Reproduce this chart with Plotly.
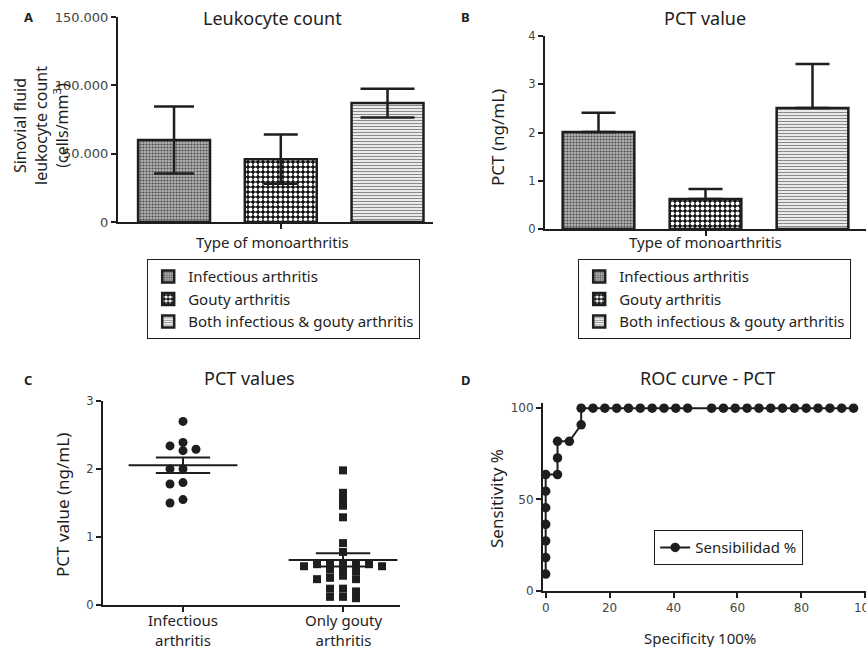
import numpy as np
import plotly.graph_objects as go

W, H = 866, 647
FONT = "Noto Sans"
NUMFONT = "DejaVu Sans"
INK = "#1e1e1e"

# ---------------- data ----------------
categories = ["Infectious arthritis", "Gouty arthritis", "Both infectious & gouty arthritis"]
leukocyte_mean = [60000, 46000, 87000]
leukocyte_sem = [24500, 18000, 10500]
leuk_tickvals = [0, 50000, 100000, 150000]
leuk_ticktext = ["0", "50.000", "100.000", "150.000"]

pct_mean = [2.01, 0.62, 2.51]
pct_sem = [0.40, 0.21, 0.91]

pct_infectious = [2.70, 2.39, 2.34, 2.29, 2.27, 2.00, 2.00, 1.80, 1.78, 1.55, 1.50]
pct_gouty = [1.98, 1.65, 1.55, 1.46, 1.29, 0.91, 0.78, 0.60, 0.60, 0.60, 0.60, 0.60,
             0.57, 0.57, 0.52, 0.52, 0.50, 0.43, 0.40, 0.38, 0.38, 0.24, 0.24, 0.20,
             0.12, 0.12, 0.10]
group_labels = ["Infectious<br>arthritis", "Only gouty<br>arthritis"]

roc_specificity = [0, 0, 0, 0, 0, 0, 0, 3.7, 3.7, 3.7, 7.4, 11.1, 11.1,
                   14.8, 18.5, 22.2, 25.9, 29.6, 33.3, 37.0, 40.7, 44.4,
                   51.9, 55.6, 59.3, 63.0, 66.7, 70.4, 74.1, 77.8, 81.5, 85.2, 88.9, 92.6, 96.3]
roc_sensitivity = [9.09, 18.18, 27.27, 36.36, 45.45, 54.55, 63.64, 63.64, 72.73, 81.82, 81.82,
                   90.91, 100, 100, 100, 100, 100, 100, 100, 100, 100, 100,
                   100, 100, 100, 100, 100, 100, 100, 100, 100, 100, 100, 100, 100]

# ---------------- layout helpers (pixels -> paper) ----------------
def xdom(x0, x1):
    return [x0 / W, min(x1 / W, 1.0)]

def ydom(top, bottom):
    return [1 - bottom / H, 1 - top / H]

def ann(text, px, py, size=16, bold=False, angle=0, xanchor="center", yanchor="middle", **kw):
    return dict(text=f"<b>{text}</b>" if bold else text, x=px / W, y=1 - py / H,
                xref="paper", yref="paper", showarrow=False, textangle=angle,
                xanchor=xanchor, yanchor=yanchor,
                font=dict(family=FONT, size=size, color=INK), **kw)

def axis_style(size=12, family=NUMFONT, color="#444"):
    return dict(showline=True, linecolor=INK, linewidth=2, ticks="outside", ticklen=5,
                tickwidth=2, tickcolor=INK, showgrid=False, zeroline=False, automargin=False,
                ticklabeloverflow="allow",
                tickfont=dict(family=family, size=size, color=color))

patterns = [
    dict(color="#b4b4b4", pattern=dict(shape=".", fgcolor="#4a4a4a", bgcolor="#b4b4b4", size=3, solidity=0.4)),
    dict(color="#111111", pattern=dict(shape=".", fgcolor="white", bgcolor="#111111", size=5, solidity=0.5)),
    dict(color="white", pattern=dict(shape="-", fgcolor="#8a8a8a", bgcolor="white", size=3, solidity=0.45)),
]

fig = go.Figure()

# ---------------- Panel A ----------------
capsA = [20, 17, 27]
for i, cat in enumerate(categories):
    fig.add_trace(go.Bar(
        x=[i], y=[leukocyte_mean[i]], width=0.674, name=cat,
        marker=dict(line=dict(color=INK, width=2.5), **patterns[i]),
        error_y=dict(type="data", array=[leukocyte_sem[i]], color=INK, thickness=2.5, width=capsA[i]),
        xaxis="x", yaxis="y", legend="legend", legendgroup=f"a{i}"))

# ---------------- Panel B ----------------
for i, cat in enumerate(categories):
    fig.add_trace(go.Bar(
        x=[i], y=[pct_mean[i]], width=0.67, name=cat,
        marker=dict(line=dict(color=INK, width=2.5), **patterns[i]),
        error_y=dict(type="data", symmetric=False, array=[pct_sem[i]], arrayminus=[0],
                     color=INK, thickness=2.5, width=17),
        xaxis="x2", yaxis="y2", legend="legend2", legendgroup=f"b{i}"))

# ---------------- Panel C ----------------
C_X0, C_X1, C_TOP, C_BOT = 103, 400, 401, 605
C_XR = [-0.5, 1.356]
C_YR = [0, 3]
px_x = (C_X1 - C_X0) / (C_XR[1] - C_XR[0])
px_y = (C_BOT - C_TOP) / (C_YR[1] - C_YR[0])

def beeswarm(vals, step_px=13.0, h_px=8.0):
    """Greedy column placement: a point moves sideways while it is too close
    (vertically) to a point already placed in the same column."""
    vals = np.asarray(vals, float)
    order = np.argsort(-vals, kind="stable")
    placed = {}
    offs = np.zeros(len(vals))
    cand = [0]
    for k in range(1, 10):
        cand += [-k, k]
    for i in order:
        yp = vals[i] * px_y
        for c in cand:
            if all(abs(yp - b) >= h_px for b in placed.get(c, [])):
                break
        placed.setdefault(c, []).append(yp)
        offs[i] = c * step_px / px_x
    return offs

for gi, (vals, sym, sz, h) in enumerate([(pct_infectious, "circle", 9, 8.0),
                                         (pct_gouty, "square", 8, 5.0)]):
    offs = beeswarm(vals, h_px=h)
    fig.add_trace(go.Scatter(x=gi + offs, y=vals, mode="markers",
                             marker=dict(symbol=sym, size=sz, color=INK, line=dict(width=0)),
                             showlegend=False, xaxis="x3", yaxis="y3"))
    v = np.asarray(vals)
    m = v.mean()
    s = v.std(ddof=1) / np.sqrt(len(v))
    lx = [gi - 0.34, gi + 0.34, None, gi - 0.17, gi + 0.17, None, gi - 0.17, gi + 0.17, None, gi, gi]
    ly = [m, m, None, m + s, m + s, None, m - s, m - s, None, m - s, m + s]
    fig.add_trace(go.Scatter(x=lx, y=ly, mode="lines", line=dict(color=INK, width=2),
                             showlegend=False, xaxis="x3", yaxis="y3", hoverinfo="skip"))

# group labels under panel C, placed at the category positions of the x3 axis
group_anns = [dict(text=lab, x=gi, xref="x3", y=1 - 630 / H, yref="paper", showarrow=False,
                   xanchor="center", yanchor="middle",
                   font=dict(family=FONT, size=15, color=INK))
              for gi, lab in enumerate(group_labels)]

# ---------------- Panel D ----------------
fig.add_trace(go.Scatter(x=roc_specificity, y=roc_sensitivity, mode="lines+markers",
                         name="Sensibilidad %", line=dict(color=INK, width=2),
                         marker=dict(size=9.5, color=INK), xaxis="x4", yaxis="y4",
                         legend="legend3", cliponaxis=False))

legend_common = dict(bordercolor=INK, borderwidth=1.2, bgcolor="white",
                     font=dict(family=FONT, size=15, color=INK), xanchor="left", yanchor="top",
                     tracegroupgap=0, itemwidth=30)

fig.update_layout(
    template="none",
    width=W, height=H, margin=dict(l=0, r=0, t=0, b=0, autoexpand=False),
    paper_bgcolor="white", plot_bgcolor="white", barmode="overlay",
    font=dict(family=FONT, color=INK), hovermode=False,
    xaxis=dict(domain=xdom(118, 433), range=[-0.525, 2.426], tickvals=[1], showticklabels=False,
               anchor="y", **axis_style()),
    yaxis=dict(domain=ydom(17, 222), range=[0, 150000], tickvals=leuk_tickvals,
               ticktext=leuk_ticktext, anchor="x", **axis_style(13)),
    xaxis2=dict(domain=xdom(545, 866), range=[-0.5, 2.5], tickvals=[1], showticklabels=False,
                anchor="y2", **axis_style()),
    yaxis2=dict(domain=ydom(36, 229), range=[0, 4], tickvals=[0, 1, 2, 3, 4],
                anchor="x2", **axis_style(11.5)),
    xaxis3=dict(domain=xdom(C_X0, C_X1), range=C_XR, tickvals=[0, 1], showticklabels=False,
                anchor="y3", **axis_style()),
    yaxis3=dict(domain=ydom(C_TOP, C_BOT), range=C_YR, tickvals=[0, 1, 2, 3],
                anchor="x3", **axis_style(11.5)),
    xaxis4=dict(domain=xdom(543, 866), range=[-0.84, 100.2], tickvals=[0, 20, 40, 60, 80, 100],
                anchor="y4", **axis_style(12)),
    yaxis4=dict(domain=ydom(402.7, 590.7), range=[0, 103], tickvals=[0, 50, 100],
                anchor="x4", **axis_style(12)),
    legend=dict(x=147 / W, y=1 - 259 / H, **legend_common),
    legend2=dict(x=578 / W, y=1 - 259 / H, **legend_common),
    legend3=dict(x=654 / W, y=1 - 530 / H, **legend_common),
    annotations=[
        ann("A", 28, 17, size=13, bold=True),
        ann("B", 466, 17, size=13, bold=True),
        ann("C", 28, 380, size=13, bold=True),
        ann("D", 466, 380, size=13, bold=True),
        ann("Leukocyte count", 272, 18, size=18),
        ann("PCT value", 705, 18, size=18),
        ann("PCT values", 250, 378, size=18),
        ann("ROC curve - PCT", 707, 378, size=18),
        ann("Sinovial fluid<br>leukocyte count<br>(cells/mm<sup>3</sup>)", 41, 126, angle=-90),
        ann("PCT (ng/mL)", 497, 137, size=17, angle=-90),
        ann("PCT value (ng/mL)", 62, 505, size=17, angle=-90),
        ann("Sensitivity %", 496, 499, size=17, angle=-90),
        ann("Type of monoarthritis", 272, 242, size=15),
        ann("Type of monoarthritis", 705, 242, size=15),
        ann("Specificity 100%", 700, 638, size=15),
    ] + group_anns,
)

fig.write_html("out.html", config={"displayModeBar": False},
               post_script="document.body.style.margin='0';document.body.style.overflow='hidden';")
